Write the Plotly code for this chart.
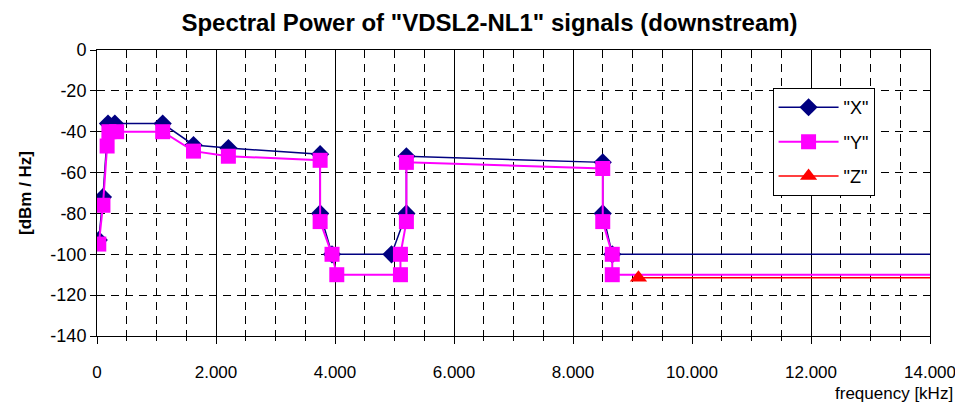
"""Spectral power of VDSL2-NL1 downstream signals, Excel-style line chart."""
import plotly.graph_objects as go

NAVY = "#000080"
MAGENTA = "#ff00ff"
RED = "#ff0000"
CLEAR = "rgba(0,0,0,0)"
FONT = "Liberation Sans, Arial, sans-serif"

# frequency [kHz] and power [dBm/Hz] per series
x_freq = [30, 100, 185, 300, 1104, 1622, 2208, 3750, 3750, 3950, 4950,
          5200, 5200, 8500, 8500, 8660, 14000]
x_power = [-93, -72, -36, -36, -36, -46.5, -48, -51, -80, -100, -100,
           -80, -52, -55, -80, -100, -100]

y_freq = [30, 100, 170, 200, 330, 1104, 1622, 2208, 3750, 3750, 3950, 4030,
          5100, 5100, 5200, 5200, 8500, 8500, 8660, 8660, 14000]
y_power = [-95, -76, -47, -40, -40, -40, -49.5, -52, -54, -84, -100, -110,
           -110, -100, -84, -55, -58, -84, -100, -110, -110]

z_freq = [9100, 14000]
z_power = [-111.5, -111.5]

series_names = ['"X"', '"Y"', '"Z"']

x_ticks = [0, 2000, 4000, 6000, 8000, 10000, 12000, 14000]
x_ticktext = ["0", "2.000", "4.000", "6.000", "8.000", "10.000", "12.000", "14.000"]
y_ticks = [0, -20, -40, -60, -80, -100, -120, -140]
y_ticktext = ["0", "-20", "-40", "-60", "-80", "-100", "-120", "-140"]


def colors(n, color):
    # Excel draws no marker on the run-out point at the right edge
    return [color] * (n - 1) + [CLEAR]


fig = go.Figure()

fig.add_trace(go.Scatter(
    x=x_freq, y=x_power, name=series_names[0], mode="lines+markers",
    legendgroup="x",
    line=dict(color=NAVY, width=1.5),
    marker=dict(symbol="diamond", size=14, color=colors(len(x_freq), NAVY)),
))
fig.add_trace(go.Scatter(
    x=y_freq, y=y_power, name=series_names[1], mode="lines+markers",
    legendgroup="y",
    line=dict(color=MAGENTA, width=2),
    marker=dict(symbol="square", size=15, color=colors(len(y_freq), MAGENTA)),
))
fig.add_trace(go.Scatter(
    x=z_freq, y=z_power, name=series_names[2], mode="lines+markers",
    legendgroup="z",
    line=dict(color=RED, width=1.5),
    marker=dict(symbol="triangle-up", size=15, color=colors(len(z_freq), RED)),
))

# the page body has an 8px margin, so margins are shifted to compensate
fig.update_layout(
    width=963,
    height=407,
    margin=dict(l=89, r=41, t=42, b=79),
    paper_bgcolor="white",
    plot_bgcolor="white",
    font=dict(family=FONT, size=16, color="black"),
    title=dict(
        text='<b>Spectral Power of "VDSL2-NL1" signals (downstream)</b>',
        x=0.5, xanchor="center", y=0.965, yanchor="middle",
        font=dict(size=24, color="black"),
    ),
    xaxis=dict(
        range=[0, 14000],
        tickvals=x_ticks,
        ticktext=x_ticktext,
        ticks="outside", ticklen=7, tickcolor="black",
        ticklabelstandoff=14,
        showline=True, linecolor="black", linewidth=1, mirror=True,
        showgrid=True, gridcolor="black", gridwidth=1,
        minor=dict(dtick=500, showgrid=True, gridcolor="black",
                   griddash="8px,6px", ticks="outside", ticklen=4,
                   tickcolor="black"),
        zeroline=False,
        tickfont=dict(size=17),
    ),
    yaxis=dict(
        range=[-140, 0],
        tickvals=y_ticks,
        ticktext=y_ticktext,
        ticks="outside", ticklen=6, tickcolor="black",
        showline=True, linecolor="black", linewidth=1, mirror=True,
        showgrid=True, gridcolor="black", gridwidth=1, griddash="8px,6px",
        zeroline=False,
        tickfont=dict(size=18),
        title=dict(text="<b>[dBm / Hz]</b>", font=dict(size=17), standoff=14),
    ),
    legend=dict(
        x=0.811, y=0.867, xanchor="left", yanchor="top",
        bgcolor="white", bordercolor="black", borderwidth=1,
        font=dict(size=18),
        tracegroupgap=8,
        itemwidth=60,
    ),
    showlegend=True,
    annotations=[dict(
        text="frequency [kHz]", xref="paper", yref="paper",
        x=1.03, y=-0.2, xanchor="right", yanchor="middle",
        showarrow=False, font=dict(size=17),
    )],
)

fig.write_html("out.html")
